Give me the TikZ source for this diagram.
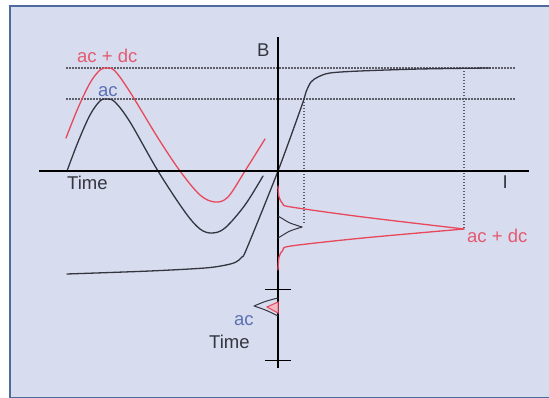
\documentclass[tikz,border=0pt]{standalone}
\usepackage{fontspec}
\setmainfont{Liberation Sans}
\definecolor{bgfill}{HTML}{D7DCEF}
\definecolor{bordercol}{HTML}{4F6A9E}
\definecolor{redcurve}{HTML}{E8485A}
\definecolor{redtext}{HTML}{E45A70}
\definecolor{bluetext}{HTML}{5C70B4}
\definecolor{darkcurve}{HTML}{35353F}
\definecolor{dotcol}{HTML}{5E5E68}
\definecolor{pinkfill}{HTML}{F2B8C4}
\begin{document}
\begin{tikzpicture}[x=1pt,y=-1pt,
  lbl/.style={inner sep=0pt,anchor=base west,font=\fontsize{18.5}{20}\selectfont},
  axisline/.style={line width=2.6pt,black},
  dotline/.style={dotcol,line width=1.1pt,dash pattern=on 1.5pt off 1.5pt},
  darkline/.style={darkcurve,line width=1.3pt,line join=round,line cap=round},
  redline/.style={redcurve,line width=1.3pt,line join=round,line cap=round},
  tickline/.style={black,line width=0.8pt}]
\useasboundingbox (0,0) rectangle (549,398);
% frame
\fill[white] (0,0) rectangle (549,398);
\filldraw[fill=bgfill,draw=bordercol,line width=2pt] (9.5,6) rectangle (552,397.5);
% named points
\coordinate (O) at (278,171);
\coordinate (xl) at (39,171);
\coordinate (xr) at (529,171);
\coordinate (yt) at (278,37);
\coordinate (yb) at (278,368);
\coordinate (d1l) at (66,68);
\coordinate (d1r) at (516,68);
\coordinate (d2l) at (66,99);
\coordinate (d2r) at (516,99);
\coordinate (v1t) at (304,99);
\coordinate (v1b) at (304,225);
\coordinate (v2t) at (464,68);
\coordinate (v2b) at (464,228);
\coordinate (t1l) at (265,289);
\coordinate (t1r) at (291,289);
\coordinate (t2l) at (265,360);
\coordinate (t2r) at (291,360);
% dotted guide lines
\draw[dotline] (d1l) -- (d1r);
\draw[dotline] (d2l) -- (d2r);
\draw[dotline] (v1t) -- (v1b);
\draw[dotline] (v2t) -- (v2b);
% sine waves
\draw[darkline] plot[smooth,tension=0.55] coordinates {(67,171) (78,142) (90,115) (100,101) (107,99) (115,102) (130,122) (158,171) (185,212) (200,229) (212,233) (225,228) (245,205) (263,176)};
\draw[redline] plot[smooth,tension=0.55] coordinates {(66,138) (78,108) (90,83) (100,70) (107,68) (115,71) (130,92) (158,138) (180,171) (200,195) (215,202) (228,197) (245,171) (265,139)};
% magnetization curve
\draw[darkline] plot[smooth,tension=0.5] coordinates {(67,274) (150,271) (205,268) (226,265) (236,262) (242,257) (247,248) (278,171) (302,105) (306,92) (311,82) (318,77) (330,73) (360,71) (420,69) (490,68)};
% axes
\draw[axisline] (xl) -- (xr);
\draw[axisline] (yt) -- (yb);
% ticks
\draw[tickline] (t1l) -- (t1r);
\draw[tickline] (t2l) -- (t2r);
% response curves
\draw[redline] plot[smooth,tension=0.5] coordinates {(278,186) (279,197) (283,204) (291,207) (363,217) (464,229)};
\draw[redline] plot[smooth,tension=0.5] coordinates {(464,229) (363,238) (291,246) (283,250) (279,257) (278,270)};
\draw[darkline,line width=1pt] plot[smooth,tension=0.6] coordinates {(278,216) (283,219) (290,223) (302,227)};
\draw[darkline,line width=1pt] plot[smooth,tension=0.6] coordinates {(302,227) (290,231) (283,235) (278,238)};
\draw[darkline,line width=1pt] (278,298) .. controls (266,301) .. (254,306) .. controls (266,310) .. (278,316);
\filldraw[fill=pinkfill,draw=redcurve,line width=1pt] (278,302) .. controls (272,304) .. (267,307) .. controls (272,310) .. (278,313) -- cycle;
% labels
\node[lbl,text=redtext] (lacdc) at (77,63) {ac + dc};
\node[lbl,text=bluetext] (lac) at (98,97) {ac};
\node[lbl,text=darkcurve] (ltime) at (67,190) {Time};
\node[lbl,text=darkcurve] (lB) at (257,57) {B};
\node[lbl,text=darkcurve] (lI) at (502.5,189) {I};
\node[lbl,text=redtext] (lacdc2) at (467,243) {ac + dc};
\node[lbl,text=bluetext] (lac2) at (234,325) {ac};
\node[lbl,text=darkcurve] (ltime2) at (209,348) {Time};
\end{tikzpicture}
\end{document}
